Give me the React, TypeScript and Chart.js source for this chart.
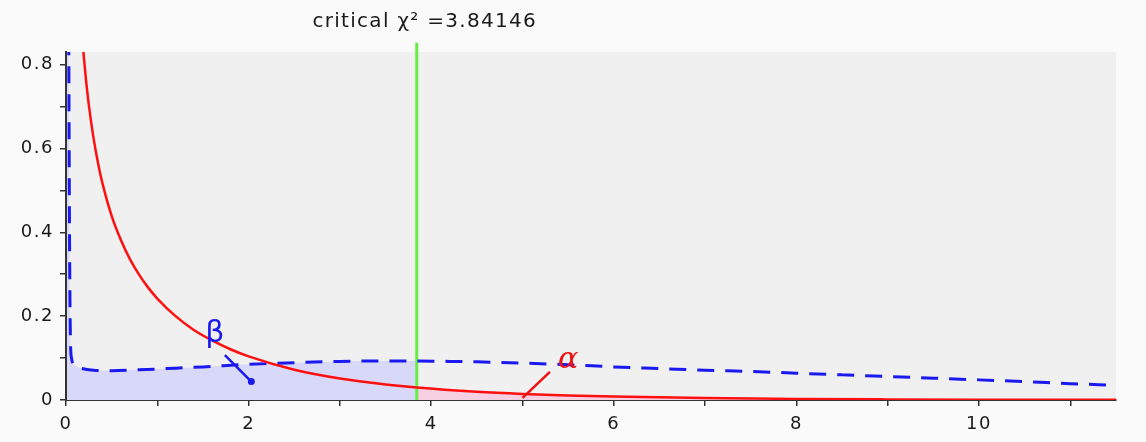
import React, { useEffect, useRef } from "react";
import { Chart, registerables } from "chart.js";

Chart.register(...registerables);

// ---- data ----
const CRITICAL = 3.84146;

const blueX = [0.01, 0.03, 0.045, 0.06, 0.1, 0.16, 0.3, 0.5, 0.8, 1.2, 1.5, 2, 2.5, 3, 3.5, 3.84146, 4.2, 4.5, 5, 5.5, 6, 6.5, 7, 7.5, 8, 8.5, 9, 9.5, 10, 10.5, 11, 11.5];
const blueY = [3.0, 0.9, 0.2, 0.1, 0.082, 0.076, 0.071, 0.07, 0.072, 0.076, 0.079, 0.085, 0.089, 0.092, 0.093, 0.093, 0.092, 0.091, 0.088, 0.084, 0.079, 0.075, 0.071, 0.068, 0.064, 0.06, 0.056, 0.052, 0.048, 0.044, 0.039, 0.035];

const redX = [0.18, 0.2, 0.22, 0.25, 0.3, 0.35, 0.4, 0.5, 0.6, 0.7, 0.8, 0.9, 1, 1.2, 1.4, 1.6, 1.8, 2, 2.5, 3, 3.5, 3.84146, 4.5, 5, 5.5, 6, 7, 8, 9, 10, 11, 11.5];
const redY = [0.859, 0.807, 0.762, 0.704, 0.627, 0.566, 0.516, 0.439, 0.382, 0.336, 0.299, 0.268, 0.242, 0.2, 0.167, 0.142, 0.121, 0.104, 0.0723, 0.0514, 0.0371, 0.0298, 0.0198, 0.0146, 0.0109, 0.0081, 0.00455, 0.00258, 0.00148, 0.00085, 0.00049, 0.00037];

const criticalLineTop = 0.852;

const xTickValues = [0, 1, 2, 3, 4, 5, 6, 7, 8, 9, 10, 11];
const xTickLabels = ["0", "", "2", "", "4", "", "6", "", "8", "", "10", ""];
const yTickValues = [0, 0.1, 0.2, 0.3, 0.4, 0.5, 0.6, 0.7, 0.8];
const yTickLabels = ["0", "", "0.2", "", "0.4", "", "0.6", "", "0.8"];

const titleText = "critical \u03c7\u00b2 =3.84146";

// annotation placements (data coordinates)
const betaLabel = { text: "\u03b2", x: 1.63, y: 0.138, lineFrom: [1.74, 0.107], lineTo: [2.03, 0.044] };
const alphaLabel = { text: "\u03b1", x: 5.5, y: 0.076, lineFrom: [5.3, 0.067], lineTo: [5.0, 0.005] };

const pts = (xs: number[], ys: number[]) => xs.map((x, i) => ({ x, y: ys[i] }));

const FONT = "'DejaVu Sans', Verdana, sans-serif";

const decorPlugin = {
  id: "decor",
  beforeDraw(chart: any) {
    const { ctx, chartArea } = chart;
    ctx.save();
    ctx.fillStyle = "#fafafa";
    ctx.fillRect(0, 0, chart.width, chart.height);
    ctx.fillStyle = "#f0f0f0";
    ctx.fillRect(chartArea.left, chartArea.top, chartArea.right - chartArea.left, chartArea.bottom - chartArea.top);
    ctx.restore();
    (ctx as any).letterSpacing = "1.5px";
  },
  afterDraw(chart: any) {
    const { ctx } = chart;
    const xs = chart.scales.x;
    const ys = chart.scales.y;
    ctx.save();
    // title
    (ctx as any).letterSpacing = "1.3px";
    ctx.font = `20px ${FONT}`;
    ctx.fillStyle = "#1a1a1a";
    ctx.textAlign = "center";
    ctx.textBaseline = "middle";
    ctx.fillText(titleText, xs.getPixelForValue(CRITICAL) + 8, 22);
    (ctx as any).letterSpacing = "0px";

    const drawAnn = (a: any, color: string, font: string, dot: boolean) => {
      ctx.strokeStyle = color;
      ctx.fillStyle = color;
      ctx.lineWidth = 2.5;
      const x1 = xs.getPixelForValue(a.lineFrom[0]);
      const y1 = ys.getPixelForValue(a.lineFrom[1]);
      const x2 = xs.getPixelForValue(a.lineTo[0]);
      const y2 = ys.getPixelForValue(a.lineTo[1]);
      ctx.beginPath();
      ctx.moveTo(x1, y1);
      ctx.lineTo(x2, y2);
      ctx.stroke();
      if (dot) {
        ctx.beginPath();
        ctx.arc(x2, y2, 3.5, 0, Math.PI * 2);
        ctx.fill();
      }
      ctx.font = font;
      ctx.textAlign = "center";
      ctx.textBaseline = "alphabetic";
      ctx.fillText(a.text, xs.getPixelForValue(a.x), ys.getPixelForValue(a.y));
    };
    drawAnn(betaLabel, "#1a1aee", `30px ${FONT}`, true);
    drawAnn(alphaLabel, "#ee1111", `italic 30px 'DejaVu Serif', serif`, false);
    ctx.restore();
  },
};

export default function App() {
  const ref = useRef<HTMLCanvasElement | null>(null);
  useEffect(() => {
    document.body.style.margin = "0";
    const canvas = ref.current!;
    const blue = pts(blueX, blueY);
    const red = pts(redX, redY);
    const blueFill = blue.filter((p) => p.x <= CRITICAL);
    const redFill = red.filter((p) => p.x >= CRITICAL);

    const chart = new Chart(canvas, {
      type: "line",
      data: {
        datasets: [
          {
            label: "red",
            data: red,
            borderColor: "#ff1010",
            borderWidth: 2.5,
            pointRadius: 0,
            fill: false,
            cubicInterpolationMode: "monotone",
            order: 1,
          },
          {
            label: "blue",
            data: blue,
            borderColor: "#1a1af0",
            borderWidth: 3,
            borderDash: [17, 11],
            pointRadius: 0,
            fill: false,
            cubicInterpolationMode: "monotone",
            order: 2,
          },
          {
            label: "critical",
            data: [
              { x: CRITICAL, y: 0 },
              { x: CRITICAL, y: criticalLineTop },
            ],
            borderColor: "#66ee44",
            borderWidth: 3,
            pointRadius: 0,
            fill: false,
            clip: false as any,
            order: 3,
          },
          {
            label: "betaFill",
            data: blueFill,
            borderWidth: 0,
            borderColor: "rgba(0,0,0,0)",
            backgroundColor: "#d8d8f8",
            pointRadius: 0,
            fill: "origin",
            cubicInterpolationMode: "monotone",
            order: 4,
          },
          {
            label: "alphaFill",
            data: redFill,
            borderWidth: 0,
            borderColor: "rgba(0,0,0,0)",
            backgroundColor: "#f6cfe0",
            pointRadius: 0,
            fill: "origin",
            cubicInterpolationMode: "monotone",
            order: 5,
          },
        ],
      },
      options: {
        animation: false,
        responsive: false,
        devicePixelRatio: 1,
        layout: { padding: { left: 0, right: 30, top: 52, bottom: 0 } },
        plugins: { legend: { display: false }, tooltip: { enabled: false }, title: { display: false } },
        scales: {
          x: {
            type: "linear",
            min: 0,
            max: 11.5,
            afterBuildTicks: (s: any) => {
              s.ticks = xTickValues.map((value) => ({ value }));
            },
            afterFit: (s: any) => {
              s.height = 42;
            },
            ticks: {
              autoSkip: false,
              maxRotation: 0,
              padding: 8,
              color: "#1a1a1a",
              font: { family: FONT, size: 18 },
              callback: (_v: any, i: number) => xTickLabels[i] ?? "",
            },
            grid: { drawOnChartArea: false, drawTicks: true, tickLength: 6, color: "#333", lineWidth: 1.5 },
            border: { display: true, color: "#333", width: 2 },
          },
          y: {
            type: "linear",
            min: 0,
            max: 0.83,
            afterBuildTicks: (s: any) => {
              s.ticks = yTickValues.map((value) => ({ value }));
            },
            afterFit: (s: any) => {
              s.width = 66;
            },
            ticks: {
              autoSkip: false,
              padding: 6,
              color: "#1a1a1a",
              font: { family: FONT, size: 18 },
              callback: (_v: any, i: number) => yTickLabels[i] ?? "",
            },
            grid: { drawOnChartArea: false, drawTicks: true, tickLength: 6, color: "#333", lineWidth: 1.5 },
            border: { display: true, color: "#333", width: 2 },
          },
        },
      },
      plugins: [decorPlugin],
    });
    return () => chart.destroy();
  }, []);

  return (
    <div style={{ width: 1146, height: 442 }}>
      <canvas ref={ref} width={1146} height={442} style={{ display: "block" }} />
    </div>
  );
}
